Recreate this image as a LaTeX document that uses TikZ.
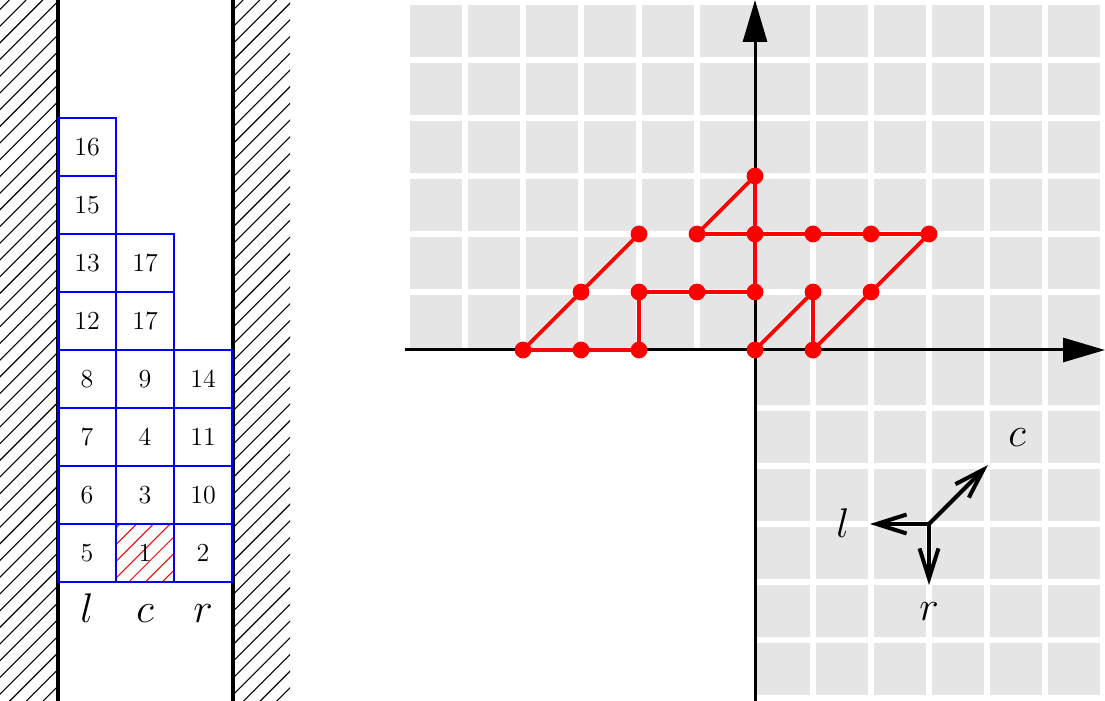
\documentclass[tikz,border=0pt]{standalone}
\usetikzlibrary{arrows.meta}
\begin{document}
\begin{tikzpicture}[x=0.5pt,y=-0.5pt,
  wall/.style={line width=2.3pt,line cap=butt},
  hatchline/.style={line width=0.55pt},
  redhatch/.style={line width=0.5pt,red},
  cellbox/.style={draw=blue,line width=1.1pt,minimum size=29pt,inner sep=0pt,font=\fontsize{13}{15}\selectfont},
  lab/.style={inner sep=0pt,anchor=base,font=\fontsize{20}{24}\selectfont},
  gridline/.style={white,line width=2.65pt},
  axis/.style={line width=1.5pt,-{Triangle[length=21pt,width=12pt]}},
  dot/.style={circle,fill=red,inner sep=0pt,minimum size=8.4pt},
  edge/.style={red,line width=1.8pt,line join=round},
  compass/.style={line width=2pt,-{Straight Barb[length=15pt,width=9.5pt]}}]
\useasboundingbox (0,0) rectangle (1105,701);

% ---------------- left: walls ----------------
\begin{scope}
  \clip (0,0) rectangle (58,701);
  \foreach \k in {0,...,48} \draw[hatchline] (\k*16.7+9.35,0) -- ++(-800,800);
\end{scope}
\begin{scope}
  \clip (233,0) rectangle (290,701);
  \foreach \k in {12,...,62} \draw[hatchline] (\k*16.7+9.35,0) -- ++(-800,800);
\end{scope}
\coordinate (wlt) at (58,0);   \coordinate (wlb) at (58,701);
\coordinate (wrt) at (233,0);  \coordinate (wrb) at (233,701);
\draw[wall] (wlt) -- (wlb);
\draw[wall] (wrt) -- (wrb);

% hatched cell 1
\begin{scope}
  \clip (116,524) rectangle (174,582);
  \foreach \k in {36,...,46} \draw[redhatch] (\k*16.7+9.35,0) -- ++(-800,800);
\end{scope}

% cells
\node[cellbox] (c16)  at (87,147) {16};
\node[cellbox] (c15)  at (87,205) {15};
\node[cellbox] (c13)  at (87,263) {13};
\node[cellbox] (c17a) at (145,263) {17};
\node[cellbox] (c12)  at (87,321) {12};
\node[cellbox] (c17b) at (145,321) {17};
\node[cellbox] (c8)   at (87,379) {8};
\node[cellbox] (c9)   at (145,379) {9};
\node[cellbox] (c14)  at (203,379) {14};
\node[cellbox] (c7)   at (87,437) {7};
\node[cellbox] (c4)   at (145,437) {4};
\node[cellbox] (c11)  at (203,437) {11};
\node[cellbox] (c6)   at (87,495) {6};
\node[cellbox] (c3)   at (145,495) {3};
\node[cellbox] (c10)  at (203,495) {10};
\node[cellbox] (c5)   at (87,553) {5};
\node[cellbox] (c1)   at (145,553) {1};
\node[cellbox] (c2)   at (203,553) {2};

\node[lab] (ll) at (87,622) {$l$};
\node[lab] (lc) at (145,622) {$c$};
\node[lab] (lr) at (203,622) {$r$};

% ---------------- right: grid ----------------
\fill[black!10] (407,2) rectangle (1103,350);
\fill[black!10] (755,350) rectangle (1103,698);
\foreach \i in {0,...,5} \draw[gridline] (407+58*\i,2) -- (407+58*\i,350);
\foreach \i in {7,...,12} \draw[gridline] (407+58*\i,2) -- (407+58*\i,698);
\foreach \j in {0,...,5} \draw[gridline] (407,2+58*\j) -- (1103,2+58*\j);
\foreach \j in {7,...,12} \draw[gridline] (755,2+58*\j) -- (1103,2+58*\j);

% axes
\coordinate (xs) at (405,350); \coordinate (xe) at (1105,350);
\coordinate (ys) at (755,701); \coordinate (ye) at (755,0);
\draw[axis] (xs) -- (xe);
\draw[axis] (ys) -- (ye);

% red points
\node[dot] (pm4z) at (523,350) {};
\node[dot] (pm3z) at (581,350) {};
\node[dot] (pm2z) at (639,350) {};
\node[dot] (pzz)  at (755,350) {};
\node[dot] (ppz)  at (813,350) {};
\node[dot] (pm3a) at (581,292) {};
\node[dot] (pm2a) at (639,292) {};
\node[dot] (pm1a) at (697,292) {};
\node[dot] (pza)  at (755,292) {};
\node[dot] (p1a)  at (813,292) {};
\node[dot] (p2a)  at (871,292) {};
\node[dot] (pm2b) at (639,234) {};
\node[dot] (pm1b) at (697,234) {};
\node[dot] (pzb)  at (755,234) {};
\node[dot] (p1b)  at (813,234) {};
\node[dot] (p2b)  at (871,234) {};
\node[dot] (p3b)  at (929,234) {};
\node[dot] (pzc)  at (755,176) {};

\draw[edge] (pm4z.center) -- (pm3z.center) -- (pm2z.center) -- (pm2a.center) -- (pm1a.center) -- (pza.center) -- (pzb.center) -- (pzc.center) -- (pm1b.center) -- (pzb.center) -- (p1b.center) -- (p2b.center) -- (p3b.center) -- (p2a.center) -- (ppz.center) -- (p1a.center) -- (pzz.center);
\draw[edge] (pm4z.center) -- (pm3a.center) -- (pm2b.center);

% compass
\coordinate (o)  at (929,524);
\coordinate (cl) at (870,524);
\coordinate (cr) at (929,585);
\coordinate (cc) at (988,465);
\draw[compass] (o) -- (cl);
\draw[compass] (o) -- (cr);
\draw[compass] (o) -- (cc);
\node[lab] (tl) at (843,538) {$l$};
\node[lab] (tr) at (929,620) {$r$};
\node[lab] (tc) at (1017,446) {$c$};
\end{tikzpicture}
\end{document}
